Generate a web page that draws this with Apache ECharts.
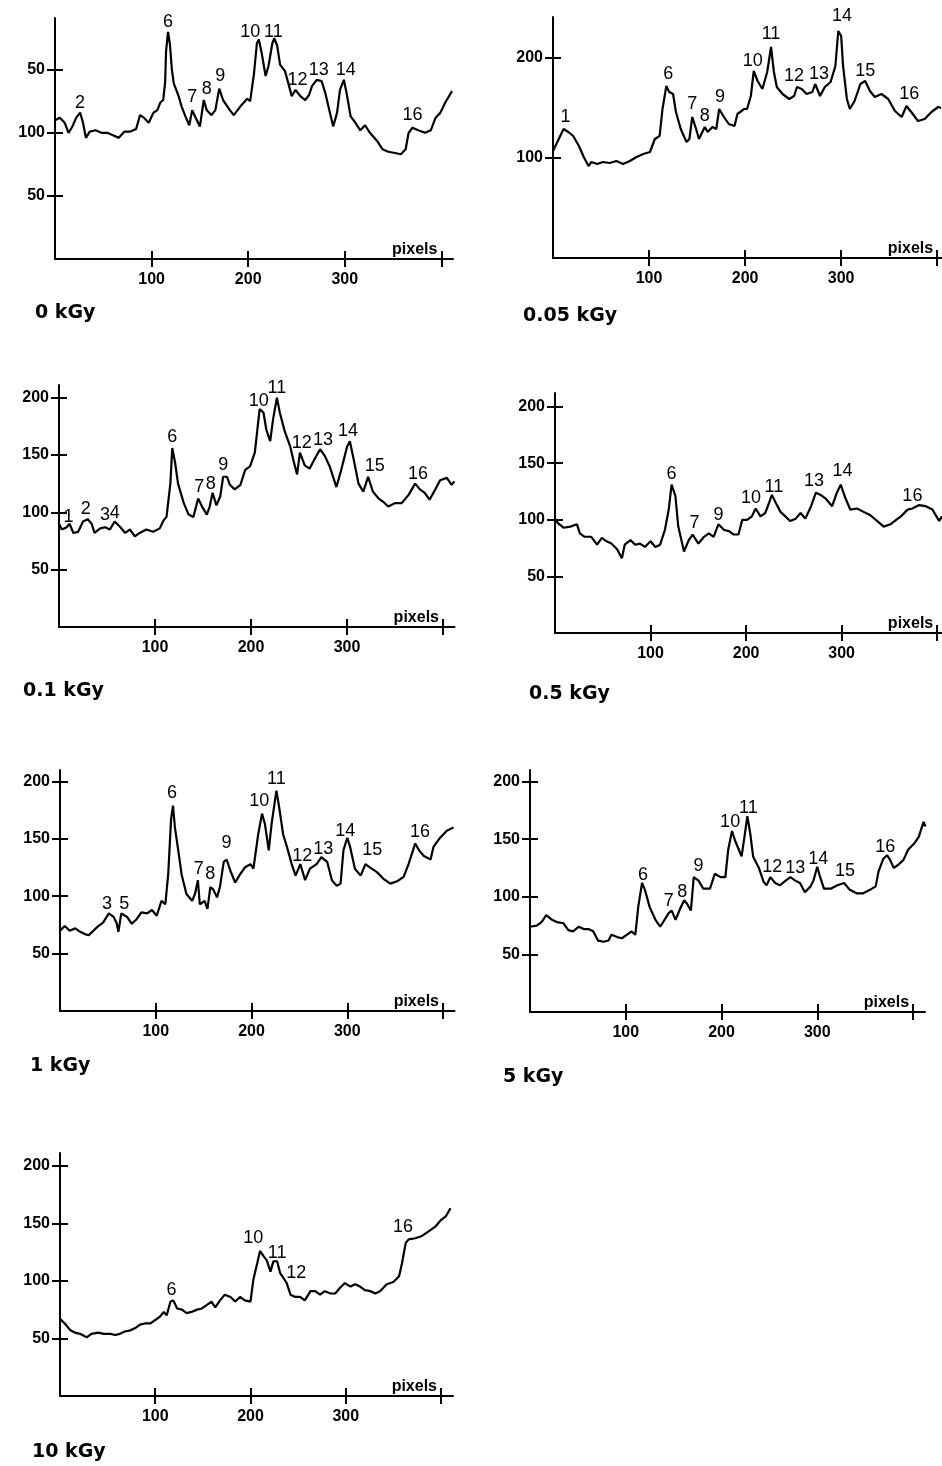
<!DOCTYPE html>
<html><head><meta charset="utf-8">
<script src="https://cdn.jsdelivr.net/npm/echarts@6/dist/echarts.min.js"></script>
<style>html,body{margin:0;padding:0;background:#fff}#c{width:942px;height:1466px}</style>
</head><body><div id="c"></div>
<script>
// ---- tick values / labels ----
const xTicks = [100, 200, 300, 400];
const xTickLabels = [100, 200, 300];
const yTicksP1 = [50, 100, 150];
const yTickTextP1 = {50: '50', 100: '100', 150: '50'};
const yTicksP2 = [100, 200];
const yTicksStd = [50, 100, 150, 200];
const titles = ['0 kGy', '0.05 kGy', '0.1 kGy', '0.5 kGy', '1 kGy', '5 kGy', '10 kGy'];

// ---- densitometric profiles: [pixel, intensity] ----
const kGy0 = [[0,110],[5,112],[10,108],[14,100],[18,105],[22,112],[26,116],[29,108],[32,96],[36,101],[42,102],[48,100],[54,100],[60,98],[66,96],[72,101],[78,101],[84,103],[88,114],[92,112],[97,108],[102,116],[106,118],[109,124],[112,126],[114,140],[115,165],[117,180],[119,170],[121,150],[123,139],[128,129],[131,121],[135,113],[139,106],[142,118],[145,113],[150,105],[154,126],[157,118],[162,114],[166,118],[170,135],[174,126],[181,118],[185,114],[192,121],[199,127],[202,125],[206,147],[209,171],[211,174],[214,163],[218,145],[221,153],[225,171],[227,175],[230,169],[233,154],[238,149],[242,138],[245,129],[249,134],[254,129],[259,126],[263,130],[266,137],[271,142],[276,141],[280,131],[283,121],[288,105],[292,116],[295,134],[299,142],[302,131],[306,113],[311,108],[316,102],[321,106],[326,100],[333,94],[339,87],[345,85],[352,84],[358,83],[363,87],[366,100],[370,104],[376,102],[383,100],[389,102],[394,112],[399,116],[404,124],[411,133]];
const kGy005 = [[0,107],[6,119],[11,129],[16,126],[21,122],[27,112],[32,101],[37,92],[40,96],[46,94],[52,96],[59,95],[66,97],[73,94],[80,97],[87,101],[94,104],[101,106],[106,119],[111,122],[114,149],[118,172],[121,166],[125,164],[128,146],[133,129],[139,116],[142,119],[145,141],[149,129],[152,119],[158,131],[161,126],[166,131],[170,129],[173,149],[178,141],[183,134],[189,132],[192,144],[199,149],[202,149],[206,162],[209,187],[213,177],[218,169],[223,186],[227,211],[230,186],[233,171],[239,164],[246,159],[251,162],[254,171],[259,169],[264,164],[270,166],[273,174],[278,162],[283,171],[289,176],[294,192],[297,227],[300,222],[302,192],[306,159],[309,149],[314,157],[320,174],[325,177],[330,167],[335,161],[342,164],[349,159],[356,147],[363,141],[368,152],[373,146],[380,137],[387,139],[394,146],[401,151],[404,150]];
const kGy01 = [[0,90],[3,85],[8,87],[11,90],[15,82],[20,83],[25,92],[30,94],[34,90],[37,82],[43,86],[48,87],[53,85],[58,92],[64,87],[69,82],[74,85],[79,79],[84,82],[91,85],[98,83],[105,86],[109,93],[112,96],[116,125],[118,156],[121,143],[124,125],[130,108],[135,98],[140,96],[145,112],[149,105],[154,98],[157,105],[160,117],[164,106],[168,114],[171,131],[175,131],[178,124],[183,120],[189,124],[194,137],[199,140],[204,152],[209,190],[213,187],[216,172],[220,162],[223,181],[227,200],[230,187],[235,171],[241,157],[244,146],[248,133],[251,152],[256,141],[261,138],[266,146],[272,155],[277,149],[282,140],[289,122],[294,137],[300,157],[303,162],[307,146],[312,125],[317,118],[322,131],[327,118],[333,112],[338,109],[343,105],[350,108],[357,108],[364,115],[371,125],[376,120],[381,117],[386,111],[392,120],[397,128],[404,130],[409,124],[412,127]];
const kGy05 = [[0,101],[3,97],[9,93],[16,94],[23,96],[26,88],[31,85],[38,85],[44,78],[49,84],[54,81],[59,79],[65,74],[70,66],[73,78],[79,82],[84,78],[89,79],[94,76],[100,81],[105,76],[110,78],[115,91],[119,109],[122,131],[126,121],[129,94],[135,72],[140,82],[144,87],[150,79],[156,85],[161,88],[166,85],[171,96],[177,91],[182,90],[187,87],[192,87],[196,100],[201,100],[206,103],[210,110],[215,103],[220,106],[224,115],[227,122],[231,115],[236,107],[241,103],[246,99],[252,101],[257,106],[262,101],[268,112],[273,124],[278,122],[283,119],[290,112],[295,124],[299,131],[304,119],[309,109],[316,110],[323,107],[330,104],[337,99],[344,94],[351,96],[357,100],[362,103],[369,109],[374,110],[381,113],[388,112],[395,109],[402,99],[405,103]];
const kGy1 = [[0,70],[5,74],[10,70],[16,72],[21,69],[26,67],[30,66],[35,70],[40,74],[45,77],[51,85],[56,82],[59,77],[61,69],[64,85],[70,82],[75,76],[80,80],[85,86],[91,85],[96,88],[101,83],[106,96],[110,93],[113,119],[116,167],[118,179],[120,160],[124,137],[127,119],[132,102],[138,96],[141,102],[144,114],[146,93],[151,96],[154,89],[157,108],[160,106],[164,99],[167,108],[171,130],[174,132],[178,122],[183,112],[188,119],[193,125],[199,128],[202,124],[207,154],[211,172],[214,163],[218,140],[221,163],[226,192],[229,177],[233,154],[237,143],[242,128],[246,118],[251,128],[256,114],[261,124],[268,128],[273,134],[279,130],[284,114],[289,109],[293,111],[296,140],[300,151],[303,143],[308,124],[314,118],[319,128],[324,125],[331,121],[338,115],[345,111],[352,113],[359,117],[364,128],[371,146],[375,140],[380,135],[387,132],[390,143],[397,151],[404,157],[411,160]];
const kGy5 = [[0,74],[7,75],[12,78],[17,84],[23,80],[28,78],[35,77],[40,71],[45,70],[51,74],[56,72],[61,72],[66,70],[71,62],[77,61],[82,62],[85,67],[91,65],[96,64],[101,67],[106,70],[110,67],[113,91],[117,112],[120,106],[125,91],[131,80],[136,74],[139,78],[145,86],[148,88],[152,80],[157,90],[161,97],[164,94],[168,88],[171,117],[176,114],[181,107],[188,107],[193,120],[199,117],[204,117],[207,141],[211,157],[214,149],[218,141],[221,135],[225,158],[227,170],[230,155],[233,135],[239,125],[244,113],[247,110],[251,117],[256,112],[261,110],[267,114],[272,117],[277,114],[282,112],[287,104],[293,109],[296,114],[300,126],[303,117],[307,107],[314,107],[321,110],[328,112],[334,106],[341,103],[348,103],[355,106],[361,109],[364,122],[369,133],[373,136],[376,132],[380,125],[385,128],[390,132],[395,141],[401,146],[406,152],[411,165],[413,161]];
const kGy10 = [[0,67],[5,63],[11,57],[16,55],[21,54],[28,51],[33,54],[40,55],[46,54],[53,54],[58,53],[63,54],[68,56],[74,57],[79,59],[84,62],[89,63],[95,63],[100,66],[105,69],[109,73],[112,70],[116,82],[119,83],[123,76],[128,75],[133,72],[138,73],[144,75],[149,76],[154,79],[159,82],[163,77],[168,83],[173,88],[179,86],[184,82],[189,86],[194,83],[200,82],[203,101],[207,115],[210,126],[214,121],[217,118],[221,108],[224,117],[228,117],[231,107],[235,102],[238,98],[242,88],[247,86],[252,86],[257,83],[263,91],[268,91],[273,88],[278,91],[284,89],[289,89],[294,94],[299,98],[305,95],[310,97],[315,95],[320,92],[326,91],[331,89],[336,91],[343,97],[350,99],[356,104],[359,115],[363,133],[366,136],[373,137],[380,139],[387,143],[394,147],[399,152],[405,156],[410,163]];

// ---- band numbers: [pixel, intensity, label] ----
const bands0 = [[26,124,'2'],[117,188,'6'],[142,128,'7'],[157,135,'8'],[171,145,'9'],[202,180,'10'],[226,180,'11'],[251,142,'12'],[273,150,'13'],[301,150,'14'],[370,114,'16']];
const bands005 = [[13,141,'1'],[120,184,'6'],[145,154,'7'],[158,142,'8'],[174,161,'9'],[208,197,'10'],[227,224,'11'],[251,182,'12'],[277,184,'13'],[301,242,'14'],[325,187,'15'],[371,164,'16']];
const bands01 = [[10,96,'1'],[28,103,'2'],[48,98,'3'],[58,99,'4'],[118,166,'6'],[146,122,'7'],[158,125,'8'],[171,141,'9'],[208,197,'10'],[227,208,'11'],[253,160,'12'],[275,163,'13'],[301,171,'14'],[329,140,'15'],[374,133,'16']];
const bands05 = [[122,140,'6'],[146,97,'7'],[171,104,'9'],[205,119,'10'],[229,129,'11'],[271,134,'13'],[301,143,'14'],[374,121,'16']];
const bands1 = [[49,93,'3'],[67,93,'5'],[117,190,'6'],[145,124,'7'],[157,119,'8'],[174,146,'9'],[208,183,'10'],[226,202,'11'],[253,135,'12'],[275,141,'13'],[298,157,'14'],[326,140,'15'],[376,156,'16']];
const bands5 = [[118,119,'6'],[145,96,'7'],[159,104,'8'],[176,127,'9'],[209,165,'10'],[228,177,'11'],[253,126,'12'],[277,125,'13'],[301,133,'14'],[329,122,'15'],[371,143,'16']];
const bands10 = [[117,92,'6'],[203,137,'10'],[228,124,'11'],[248,107,'12'],[360,147,'16']];

const profiles = [kGy0, kGy005, kGy01, kGy05, kGy1, kGy5, kGy10];
const bands = [bands0, bands005, bands01, bands05, bands1, bands5, bands10];
const yTickSets = [yTicksP1, yTicksP2, yTicksStd, yTicksStd, yTicksStd, yTicksStd, yTicksStd];

// ---- layout (pixels) ----
const layout = [
  {left:55, top:18, width:398, height:241, xmax:412, ymax:191, tx:35, ty:313},
  {left:553, top:17, width:389, height:241, xmax:405, ymax:241, tx:523, ty:316},
  {left:59, top:385, width:395.5, height:242, xmax:412, ymax:211, tx:23, ty:691},
  {left:555, top:393, width:387, height:240, xmax:405, ymax:212, tx:529, ty:694},
  {left:60, top:770, width:394.5, height:241, xmax:412, ymax:210, tx:30, ty:1066},
  {left:530, top:770, width:395, height:242, xmax:412.5, ymax:210, tx:503, ty:1077},
  {left:60, top:1153, width:393, height:243, xmax:412.6, ymax:211, tx:32, ty:1452}
];

const INK = '#000';
const tickFont = {color: INK, fontSize: 16, fontWeight: 'bold', fontFamily: 'Liberation Sans'};
const grid = [], xAxis = [], yAxis = [], series = [], graphic = [];

layout.forEach((L, i) => {
  grid.push({left: L.left, top: L.top, width: L.width, height: L.height, containLabel: false});
  const lineStyle = {color: INK, width: 2};
  const xBase = {gridIndex: i, type: 'value', min: 0, max: L.xmax, position: 'bottom', splitLine: {show: false}};
  xAxis.push(Object.assign({}, xBase, {
    axisLine: {show: true, onZero: false, lineStyle},
    axisTick: {show: true, inside: false, length: 8, customValues: xTicks, lineStyle},
    axisLabel: Object.assign({show: true, customValues: xTickLabels, margin: 13}, tickFont)
  }));
  xAxis.push(Object.assign({}, xBase, {
    axisLine: {show: false, onZero: false},
    axisTick: {show: true, inside: true, length: 8, customValues: xTicks, lineStyle},
    axisLabel: {show: false}
  }));
  const yBase = {gridIndex: i, type: 'value', min: 0, max: L.ymax, position: 'left', splitLine: {show: false}};
  const yt = yTickSets[i];
  yAxis.push(Object.assign({}, yBase, {
    axisLine: {show: true, onZero: false, lineStyle},
    axisTick: {show: true, inside: false, length: 8, customValues: yt, lineStyle},
    axisLabel: Object.assign({show: true, customValues: yt, margin: 10,
      formatter: i === 0 ? (v) => yTickTextP1[v] : (v) => String(v)}, tickFont)
  }));
  yAxis.push(Object.assign({}, yBase, {
    axisLine: {show: false, onZero: false},
    axisTick: {show: true, inside: true, length: 8, customValues: yt, lineStyle},
    axisLabel: {show: false}
  }));
  series.push({
    type: 'line', xAxisIndex: 2 * i, yAxisIndex: 2 * i, data: profiles[i],
    showSymbol: false, symbol: 'none', lineStyle: {color: INK, width: 2.2}, silent: true
  });
  series.push({
    type: 'scatter', xAxisIndex: 2 * i, yAxisIndex: 2 * i, symbolSize: 0, clip: false, silent: true,
    itemStyle: {opacity: 1},
    data: bands[i].map(b => ({value: [b[0], b[1]], name: b[2]})),
    label: {show: true, position: 'inside', formatter: '{b}', color: INK, opacity: 1, fontSize: 18, fontFamily: 'Liberation Sans'}
  });
  graphic.push({type: 'text', x: L.tx, y: L.ty, style: {text: titles[i], font: 'bold 19px "DejaVu Sans"', fill: INK, verticalAlign: 'middle'}});
  const px = L.left + 400 * (L.width / L.xmax) - 4;
  graphic.push({type: 'text', x: px, y: L.top + L.height - 9, style: {text: 'pixels', font: 'bold 16px "Liberation Sans"', fill: INK, align: 'right', verticalAlign: 'middle'}});
});

const chart = echarts.init(document.getElementById('c'), null, {renderer: 'canvas'});
chart.setOption({animation: false, backgroundColor: '#fff', grid, xAxis, yAxis, series, graphic});
</script>
</body></html>
